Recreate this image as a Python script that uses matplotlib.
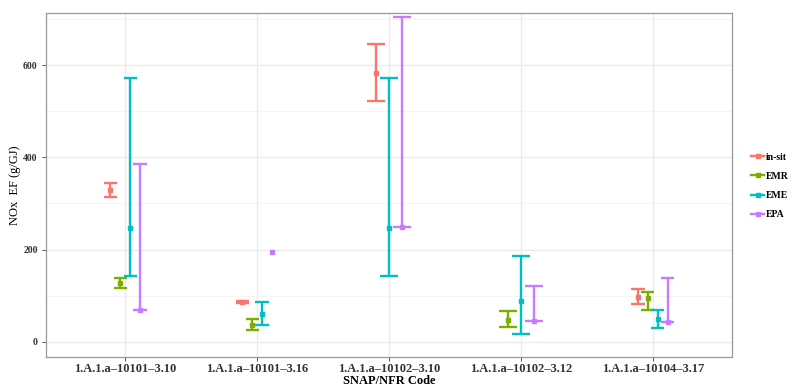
import numpy as np
import matplotlib
matplotlib.use("Agg")
import matplotlib.pyplot as plt
from matplotlib.lines import Line2D

categories = ["1.A.1.a–10101–3.10", "1.A.1.a–10101–3.16", "1.A.1.a–10102–3.10",
              "1.A.1.a–10102–3.12", "1.A.1.a–10104–3.17"]
series = ["in-sit", "EMR", "EME", "EPA"]
colors = ["#F8766D", "#7CAE00", "#00BFC4", "#C77CFF"]
nan = np.nan
insit_val = [330, 87, 583, nan, 97]
insit_lo = [315, 85, 522, nan, 81]
insit_hi = [345, 89, 646, nan, 114]
emr_val = [127, 37, nan, 47, 96]
emr_lo = [116, 25, nan, 32, 69]
emr_hi = [138, 50, nan, 67, 107]
eme_val = [247, 60, 247, 89, 49]
eme_lo = [143, 36, 143, 16, 29]
eme_hi = [571, 86, 571, 185, 68]
epa_val = [70, 195, 249, 44, 43]
epa_lo = [70, nan, 249, 44, 43]
epa_hi = [385, nan, 704, 121, 138]

vals = [insit_val, emr_val, eme_val, epa_val]
los = [insit_lo, emr_lo, eme_lo, epa_lo]
his = [insit_hi, emr_hi, eme_hi, epa_hi]

plt.rcParams['font.family'] = ['Liberation Serif', 'DejaVu Serif']
fig = plt.figure(figsize=(7.9, 3.85), dpi=100)
ax = fig.add_axes([46/790, 1-357/385, 686/790, 344/385])

dodge_w = 0.3
cap_w = 0.4
for ci in range(len(categories)):
    present = [s for s in range(len(series)) if not np.isnan(vals[s][ci])]
    n = len(present)
    for k, s in enumerate(present):
        x = (ci + 1) + (k - (n - 1) / 2) * dodge_w / n
        lo, hi, v = los[s][ci], his[s][ci], vals[s][ci]
        c = colors[s]
        if not np.isnan(lo):
            hw = cap_w / n / 2
            ax.vlines(x, lo, hi, color=c, lw=1.7, zorder=3)
            ax.hlines([lo, hi], x - hw, x + hw, color=c, lw=1.7, zorder=3)
        ax.plot([x], [v], marker='s', ms=3.5, color=c, zorder=4, ls='none')

ax.set_xlim(0.4, 5.6)
ax.set_ylim(-33, 713)
ax.set_xticks(range(1, 6))
ax.set_xticklabels(categories, fontsize=9, fontweight='bold', color='#333333')
ax.set_yticks([0, 200, 400, 600])
ax.set_yticks([100, 300, 500, 700], minor=True)
ax.tick_params(axis='y', which='major', labelsize=7, length=3, width=0.6,
               colors='#333333', pad=3)
ax.tick_params(axis='y', which='minor', length=0)
ax.tick_params(axis='x', length=3, width=0.6, colors='#333333', pad=1.5)
for lab in ax.get_yticklabels():
    lab.set_fontweight('bold')
ax.grid(True, which='major', color='#EBEBEB', lw=1.0, zorder=0)
ax.grid(True, which='minor', axis='y', color='#F2F2F2', lw=0.6, zorder=0)
ax.set_axisbelow(True)
for sp in ax.spines.values():
    sp.set_color('#999999')
    sp.set_linewidth(0.9)

ax.set_ylabel("NOx  EF (g/GJ)", fontsize=9)
ax.yaxis.set_label_coords(-0.036, 0.5)
ax.set_xlabel("SNAP/NFR Code", fontsize=9, fontweight='bold')
ax.xaxis.set_label_coords(0.5, -0.051)

handles = [Line2D([0], [0], color=c, lw=1.7, marker='s', ms=3.5) for c in colors]
leg = fig.legend(handles, series, loc='center left', bbox_to_anchor=(751/790, 1-186/385),
                 frameon=False, handlelength=1.35, handletextpad=0.2, labelspacing=1.05,
                 borderpad=0, borderaxespad=0,
                 prop={'size': 7, 'weight': 'bold'})

fig.savefig("out.png", dpi=100)
